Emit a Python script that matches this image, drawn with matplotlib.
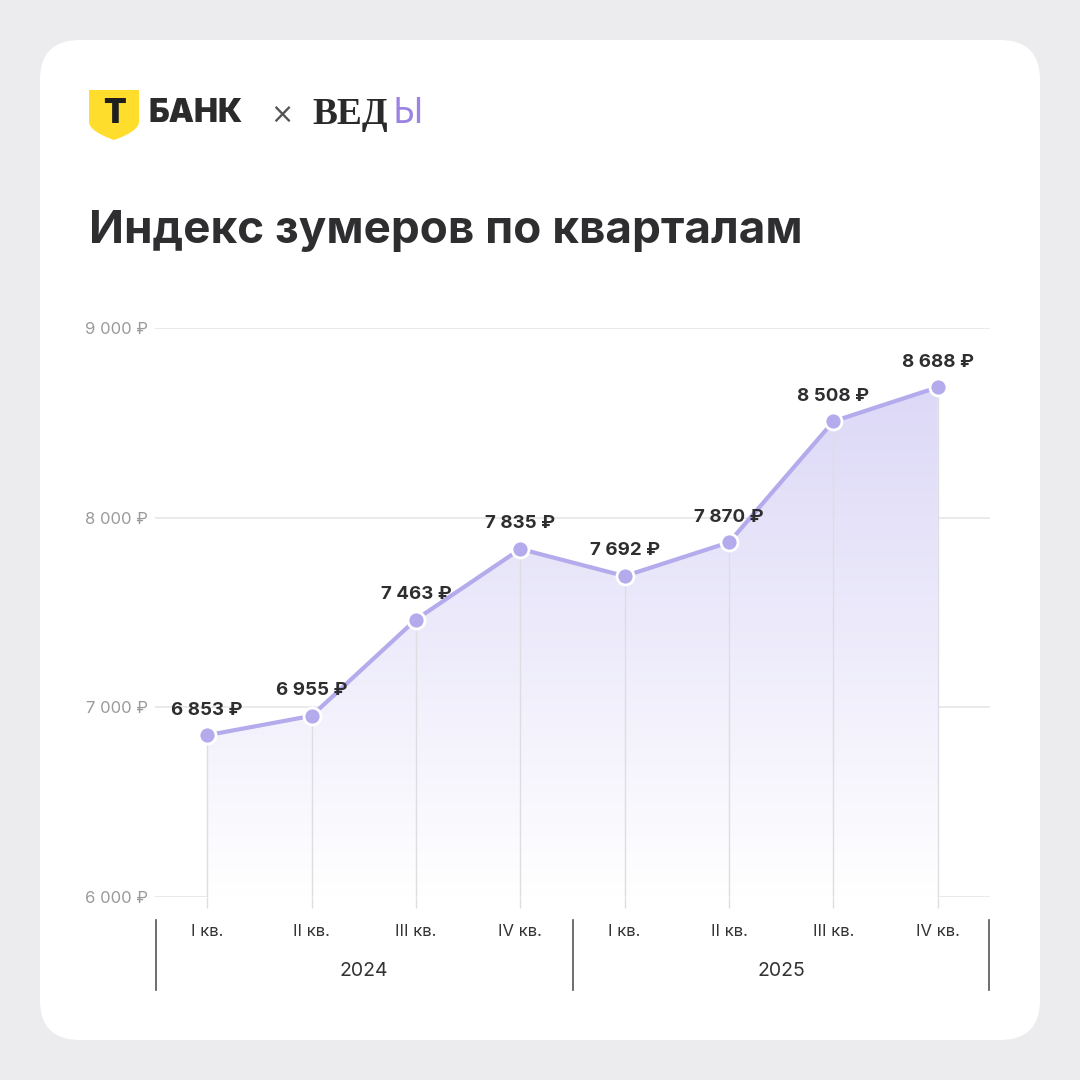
import matplotlib
matplotlib.use("Agg")
import matplotlib.pyplot as plt
import numpy as np
from matplotlib.patches import FancyBboxPatch, PathPatch, Polygon
from matplotlib.path import Path
from matplotlib.transforms import blended_transform_factory
from matplotlib.colors import LinearSegmentedColormap

plt.rcParams['font.family'] = ['Inter', 'DejaVu Sans']

# ---- data ----
quarters = ["I кв.", "II кв.", "III кв.", "IV кв.", "I кв.", "II кв.", "III кв.", "IV кв."]
years = ["2024", "2025"]
values = [6853, 6955, 7463, 7835, 7692, 7870, 8508, 8688]
yticks = [6000, 7000, 8000, 9000]
title = "Индекс зумеров по кварталам"

def rub(v):
    return f"{v:,}".replace(",", " ") + " ₽"

W = H = 1080
fig = plt.figure(figsize=(10.8, 10.8), dpi=100)
fig.patch.set_facecolor("#ececef")

# card
card = FancyBboxPatch((40 / W, 40 / H), 1000 / W, 1000 / H,
                      boxstyle="round,pad=0,rounding_size=0.037",
                      transform=fig.transFigure, facecolor="white",
                      edgecolor="none", zorder=-5)
fig.patches.append(card)

# ---- logos ----
def fx(px): return px / W
def fy(py): return 1 - py / H

shield = Path([(fx(89), fy(90)), (fx(139), fy(90)), (fx(139), fy(122)),
               (fx(139), fy(132)), (fx(114), fy(140)), (fx(114), fy(140)),
               (fx(114), fy(140)), (fx(89), fy(132)), (fx(89), fy(122)),
               (fx(89), fy(90))],
              [Path.MOVETO, Path.LINETO, Path.LINETO,
               Path.CURVE4, Path.CURVE4, Path.CURVE4,
               Path.CURVE4, Path.CURVE4, Path.CURVE4, Path.CLOSEPOLY])
fig.patches.append(PathPatch(shield, transform=fig.transFigure,
                             facecolor="#fedd2c", edgecolor="none", zorder=2))
fig.text(fx(114), fy(114), "Т", fontsize=24, fontweight="black", color="#1e1e1e",
         ha="center", va="center", family=["Inter", "DejaVu Sans"])
fig.text(fx(149), fy(113), "БАНК", fontsize=23, fontweight="black", color="#2b2b2b",
         ha="left", va="center", family=["Inter", "DejaVu Sans"])
fig.text(fx(282), fy(115), "×", fontsize=20, color="#555555",
         ha="center", va="center", family=["DejaVu Sans"])
fig.text(fx(312), fy(114), "ВЕД", fontsize=27, fontweight="bold", color="#2a2a2a",
         ha="left", va="center", family=["Liberation Serif", "DejaVu Serif"])
fig.text(fx(392), fy(114), "Ы", fontsize=26, color="#9a83e3",
         ha="left", va="center", family=["Noto Sans", "DejaVu Sans"])

# title
fig.text(fx(89), fy(243), title, fontsize=33, fontweight="bold", color="#2e2e30",
         ha="left", va="baseline")

# ---- axes ----
ax = fig.add_axes([155 / W, 1 - 897 / H, (990 - 155) / W, (897 - 328) / H])
ax.set_zorder(1)
ax.set_facecolor("none")
x = np.arange(len(values))

for s in ax.spines.values():
    s.set_visible(False)

ax.set_yticks(yticks)
ax.set_yticklabels([rub(v) for v in yticks], color="#9a9a9a", fontsize=12)
ax.yaxis.grid(True, color="#e6e6e8", linewidth=1.2)
ax.tick_params(axis="y", length=0, pad=5)
ax.set_axisbelow(True)
ax.set_xticks(x)
ax.set_xticklabels([])
ax.tick_params(axis="x", length=8, color="#dedee2", width=1)

# gradient fill
line_color = "#b3abec"
grad = np.linspace(0, 1, 256).reshape(-1, 1)
cmap = LinearSegmentedColormap.from_list("g", ["#ffffff", "#dcd8f7"])
im = ax.imshow(grad, extent=[-0.5, 7.5, 6000, 8700], origin="lower",
               aspect="auto", cmap=cmap, zorder=1)
clip = Polygon(np.column_stack([np.r_[x, x[::-1]],
                                np.r_[values, np.full(len(x), 6000)]]),
               closed=True, transform=ax.transData)
im.set_clip_path(clip)
ax.set_xlim(-0.5, 7.5)
ax.set_ylim(6000, 9000)

ax.vlines(x, 6000, values, color="#dedee2", linewidth=1, zorder=2)
ax.plot(x, values, color=line_color, linewidth=3, zorder=3, solid_capstyle="round")
ax.scatter(x, values, s=150, color=line_color, edgecolor="white", linewidth=2, zorder=4)

for xi, v in zip(x, values):
    ax.annotate(rub(v), (xi, v), xytext=(0, 12), textcoords="offset points",
                ha="center", va="bottom", fontsize=13.5, fontweight="bold",
                color="#2e2e30", zorder=5, annotation_clip=False)

# x labels
tr = blended_transform_factory(ax.transData, fig.transFigure)
for xi, q in zip(x, quarters):
    ax.text(xi, fy(932), q, transform=tr, ha="center", va="center",
            fontsize=12, color="#333333")
for i, yr in enumerate(years):
    ax.text(1.5 + 4 * i, fy(971), yr, transform=tr, ha="center", va="center",
            fontsize=14, color="#333333")
for sx in [-0.49, 3.5, 7.49]:
    ax.plot([sx, sx], [fy(920), fy(990)], transform=tr, color="#555555",
            linewidth=1.2, clip_on=False)

fig.savefig("out.png", dpi=100, facecolor=fig.get_facecolor())
